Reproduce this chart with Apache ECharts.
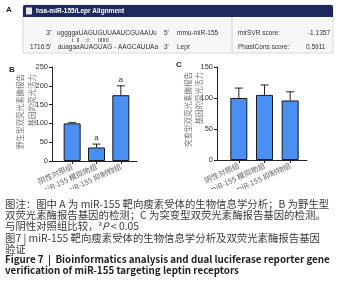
<!DOCTYPE html>
<html>
<head>
<meta charset="utf-8">
<script src="https://cdn.jsdelivr.net/npm/echarts@6/dist/echarts.min.js"></script>
<style>
  html, body { margin: 0; padding: 0; background: #fff; }
  #main { width: 338px; height: 300px; }
</style>
</head>
<body>
<div id="main"></div>
<script>
// 分组
var groups = ['阴性对照组', 'miR-155 模拟物组', 'miR-155 抑制物组'];

// B 野生型
var wildMean = [100, 36, 175];
var wildErr = [2, 9, 25];
var wildSig = ['', 'a', 'a'];

// C 突变型
var mutMean = [100, 105, 96];
var mutErr = [16, 16, 14];
var mutSig = ['', '', ''];

var cjk = '"Noto Sans CJK SC", "Liberation Sans", sans-serif';
var barColor = '#4a90f2';

function errBar(gridIdx, mean, err, sig) {
    return {
        type: 'custom',
        xAxisIndex: gridIdx,
        yAxisIndex: gridIdx,
        z: 5,
        data: mean.map(function (m, i) { return [i, m, err[i]]; }),
        renderItem: function (params, api) {
            var i = api.value(0);
            var base = api.coord([i, api.value(1)]);
            var top = api.coord([i, api.value(1) + api.value(2)]);
            var kids = [
                { type: 'line', shape: { x1: base[0], y1: base[1], x2: top[0], y2: top[1] }, style: { stroke: '#222', lineWidth: 1 } },
                { type: 'line', shape: { x1: top[0] - 4, y1: top[1], x2: top[0] + 4, y2: top[1] }, style: { stroke: '#222', lineWidth: 1 } }
            ];
            if (sig[i]) {
                kids.push({ type: 'text', x: top[0], y: top[1] - 2,
                    style: { text: sig[i], fill: '#333', font: '8px "Liberation Sans"', align: 'center', verticalAlign: 'bottom' } });
            }
            return { type: 'group', children: kids };
        }
    };
}

function barSeries(gridIdx, mean) {
    return {
        type: 'bar',
        xAxisIndex: gridIdx,
        yAxisIndex: gridIdx,
        data: mean,
        barWidth: 17,
        itemStyle: { color: barColor, borderColor: '#1a1a1a', borderWidth: 1 }
    };
}

var chart = echarts.init(document.getElementById('main'));

var lineAxis = {
    type: 'value', min: 0, max: 1,
    axisLine: { show: true, lineStyle: { color: '#222', width: 1 } },
    axisTick: { show: false }, axisLabel: { show: false }, splitLine: { show: false }
};
function catAxis(gi) {
    return {
        type: 'category', gridIndex: gi, data: groups,
        axisLine: { show: false },
        axisTick: { show: true, alignWithLabel: true, length: 3, lineStyle: { color: '#222' } },
        axisLabel: { rotate: 25, margin: 5, fontSize: 7.5, color: '#666', fontFamily: cjk, interval: 0 }
    };
}
function valAxis(gi, max, show) {
    return {
        type: 'value', gridIndex: gi, min: 0, max: max, interval: 50, show: show,
        axisLine: { show: true, lineStyle: { color: '#222', width: 1 } },
        axisTick: { show: true, length: 3, lineStyle: { color: '#222' } },
        axisLabel: { fontSize: 7.5, color: '#333', margin: 4, fontFamily: 'Liberation Sans' },
        splitLine: { show: false }
    };
}

var capStyle = { fill: '#3a3a3a', font: '10.4px ' + cjk };
var caption = [
    '图注：图中 A 为 miR-155 靶向瘦素受体的生物信息学分析；B 为野生型',
    '双荧光素酶报告基因的检测；C 为突变型双荧光素酶报告基因的检测。'
];

var seqTop = 'uggggaUAGUGUUAAUCGUAAUu';
var seqBot = 'auagaaAUAGUAG - AAGCAUUAa';
var pairs = 'I  II   ::I:     IIIIIII';

chart.setOption({
    animation: false,
    grid: [
        { left: 52, right: 201, top: 67, bottom: 139 },
        { left: 60, right: 205, top: 67, bottom: 139 },
        { left: 217, right: 31, top: 67, bottom: 140 },
        { left: 226, right: 35, top: 67, bottom: 140 }
    ],
    xAxis: [
        Object.assign({ gridIndex: 0 }, lineAxis),
        catAxis(1),
        Object.assign({ gridIndex: 2 }, lineAxis),
        catAxis(3)
    ],
    yAxis: [
        valAxis(0, 250, true),
        valAxis(1, 250, false),
        valAxis(2, 150, true),
        valAxis(3, 150, false)
    ],
    series: [
        barSeries(1, wildMean),
        errBar(1, wildMean, wildErr, wildSig),
        barSeries(3, mutMean),
        errBar(3, mutMean, mutErr, mutSig)
    ],
    graphic: [
        // A 面板
        { type: 'text', x: 6, y: 6, style: { text: 'A', font: 'bold 8px "Liberation Sans"', fill: '#222' } },
        { type: 'rect', shape: { x: 23, y: 5, width: 310, height: 48 }, style: { fill: '#f7f7f7', stroke: '#d8d8d8', lineWidth: 1 } },
        { type: 'rect', shape: { x: 23, y: 5, width: 310, height: 12, r: [2, 2, 0, 0] }, style: { fill: '#1d2b5c' } },
        { type: 'rect', shape: { x: 26, y: 7.5, width: 6, height: 7 }, style: { fill: '#e8e8e8' } },
        { type: 'text', x: 36, y: 11, style: { text: 'hsa-miR-155/Lepr Alignment', font: 'bold 6.5px "Liberation Sans"', fill: '#fff', verticalAlign: 'middle' } },
        { type: 'line', shape: { x1: 232, y1: 17, x2: 232, y2: 53 }, style: { stroke: '#d0d0d0', lineWidth: 1 } },
        { type: 'text', x: 51, y: 33, style: { text: "3'", font: '6.5px "Liberation Sans"', fill: '#333', align: 'right', verticalAlign: 'middle' } },
        { type: 'text', x: 57, y: 33, style: { text: seqTop, font: '6.5px "Liberation Sans"', fill: '#333', verticalAlign: 'middle' } },
        { type: 'text', x: 72, y: 40, style: { text: pairs, font: '5.5px "Liberation Sans"', fill: '#333', verticalAlign: 'middle' } },
        { type: 'text', x: 51, y: 47, style: { text: "1716:5'", font: '6.5px "Liberation Sans"', fill: '#333', align: 'right', verticalAlign: 'middle' } },
        { type: 'text', x: 58, y: 47, style: { text: seqBot, font: '6.5px "Liberation Sans"', fill: '#333', verticalAlign: 'middle' } },
        { type: 'text', x: 164, y: 33, style: { text: "5'", font: '6.5px "Liberation Sans"', fill: '#333', verticalAlign: 'middle' } },
        { type: 'text', x: 177, y: 33, style: { text: 'mmu-miR-155', font: '6.5px "Liberation Sans"', fill: '#333', verticalAlign: 'middle' } },
        { type: 'text', x: 164, y: 47, style: { text: "3'", font: '6.5px "Liberation Sans"', fill: '#333', verticalAlign: 'middle' } },
        { type: 'text', x: 177, y: 47, style: { text: 'Lepr', font: '6.5px "Liberation Sans"', fill: '#333', verticalAlign: 'middle' } },
        { type: 'text', x: 238, y: 33, style: { text: 'mirSVR score:', font: '6.5px "Liberation Sans"', fill: '#333', verticalAlign: 'middle' } },
        { type: 'text', x: 330, y: 33, style: { text: '-1.1357', font: '6.5px "Liberation Sans"', fill: '#333', align: 'right', verticalAlign: 'middle' } },
        { type: 'text', x: 238, y: 47, style: { text: 'PhastCons score:', font: '6.5px "Liberation Sans"', fill: '#333', verticalAlign: 'middle' } },
        { type: 'text', x: 306, y: 47, style: { text: '0.5911', font: '6.5px "Liberation Sans"', fill: '#333', verticalAlign: 'middle' } },

        // B / C 标记
        { type: 'text', x: 9, y: 66, style: { text: 'B', font: 'bold 8px "Liberation Sans"', fill: '#222' } },
        { type: 'text', x: 176, y: 61, style: { text: 'C', font: 'bold 8px "Liberation Sans"', fill: '#222' } },

        // y 轴标题
        { type: 'text', x: 26, y: 74, rotation: Math.PI / 2,
          style: { text: '野生型双荧光素酶报告\n基因的荧光活力', font: '7.5px ' + cjk, lineHeight: 12, fill: '#777', align: 'right', verticalAlign: 'middle' } },
        { type: 'text', x: 194, y: 72, rotation: Math.PI / 2,
          style: { text: '突变型双荧光素酶报告\n基因的荧光活力', font: '7.5px ' + cjk, lineHeight: 11, fill: '#777', align: 'right', verticalAlign: 'middle' } },

        // 图注
        { type: 'rect', z: 100, shape: { x: 0, y: 189, width: 338, height: 111 }, style: { fill: '#fff' } },
        { type: 'text', z: 101, x: 5, y: 204, style: Object.assign({ text: caption[0], verticalAlign: 'middle' }, capStyle) },
        { type: 'text', z: 101, x: 5, y: 215, style: Object.assign({ text: caption[1], verticalAlign: 'middle' }, capStyle) },
        { type: 'text', z: 101, x: 5, y: 226, style: {
            text: '{n|与阴性对照组比较，}{s|a}{i|P}{n| < 0.05}', verticalAlign: 'middle',
            rich: { n: { font: '10.4px ' + cjk, fill: '#3a3a3a' }, s: { font: '6px ' + cjk, fill: '#3a3a3a', verticalAlign: 'top', padding: [0, 0, 5, 0] }, i: { font: 'italic 10.4px ' + cjk, fill: '#3a3a3a' } }
        } },
        { type: 'text', z: 101, x: 5, y: 238, style: Object.assign({ text: '图7 | miR-155 靶向瘦素受体的生物信息学分析及双荧光素酶报告基因', verticalAlign: 'middle' }, capStyle) },
        { type: 'text', z: 101, x: 5, y: 249, style: Object.assign({ text: '验证', verticalAlign: 'middle' }, capStyle) },
        { type: 'text', z: 101, x: 5, y: 259, style: { text: 'Figure 7  |  Bioinformatics analysis and dual luciferase reporter gene', font: 'bold 9.8px ' + cjk, fill: '#222', verticalAlign: 'middle' } },
        { type: 'text', z: 101, x: 5, y: 270, style: { text: 'verification of miR-155 targeting leptin receptors', font: 'bold 9.8px ' + cjk, fill: '#222', verticalAlign: 'middle' } }
    ]
});
</script>
</body>
</html>
